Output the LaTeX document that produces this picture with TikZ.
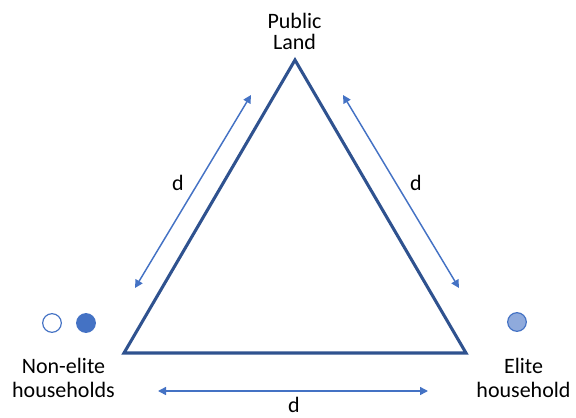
\documentclass[tikz,border=0pt]{standalone}
\usepackage{fontspec}
\setmainfont{Carlito}
\usepackage{tikz}
\usetikzlibrary{arrows.meta,positioning}
\definecolor{cedge}{HTML}{2F528F}
\definecolor{carrow}{HTML}{4472C4}
\definecolor{celite}{HTML}{8FAADC}
\tikzset{
  lbl/.style={align=center,inner sep=0pt,font=\fontsize{16.5pt}{18pt}\selectfont},
  dist/.style={draw=carrow,line width=1.1pt,{Triangle[width=6pt,length=6pt]}-{Triangle[width=6pt,length=6pt]}},
  hh/.style={circle,draw=carrow,line width=0.9pt,minimum size=14pt,inner sep=0pt}
}
\begin{document}
\begin{tikzpicture}[x=0.75pt,y=-0.75pt]
    \useasboundingbox (0,0) rectangle (576,418);
    % corners of the triangle
    \coordinate (land) at (295,60);
    \coordinate (non) at (124,353);
    \coordinate (elite) at (466,353);
    \draw[cedge,line width=2.3pt,line join=miter] (land)--(elite)--(non)--cycle;
    % labels
    \node[lbl,font=\fontsize{16.5pt}{15.8pt}\selectfont] (tland) at (294.5,31) {Public\\Land};
    \node[lbl] (tnon) at (63.5,378) {Non-elite\\households};
    \node[lbl] (telite) at (523.5,378) {Elite\\household};
    % households
    \node[hh,fill=white] (n1) at (52,323) {};
    \node[hh,fill=carrow] (n2) at (86,323) {};
    \node[hh,fill=celite] (e1) at (517,322) {};
    % distances
    \coordinate (l1) at (135,288);
    \coordinate (l2) at (251,95);
    \coordinate (r1) at (343,95);
    \coordinate (r2) at (459,288);
    \coordinate (b1) at (158,391);
    \coordinate (b2) at (428,391);
    \draw[dist] (l1)--(l2);
    \draw[dist] (r1)--(r2);
    \draw[dist] (b1)--(b2);
    \node[lbl] (dl) at (178,183) {d};
    \node[lbl] (dr) at (416,183) {d};
    \node[lbl] (db) at (294,405) {d};
  \end{tikzpicture}
\end{document}
